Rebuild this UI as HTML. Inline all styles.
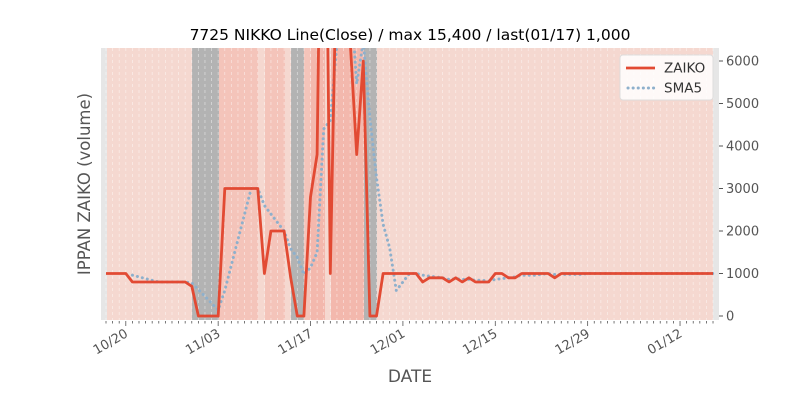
<!DOCTYPE html>
<html><head><meta charset="utf-8"><style>
body{margin:0;background:#fff}
svg{display:block;font-family:"DejaVu Sans","Liberation Sans",sans-serif}
</style></head><body>
<svg id="s" width="800" height="400" viewBox="0 0 800 400"></svg>
<script>
const s=document.getElementById('s');
const X0=106,DX=6.598,T=48,B=320,L=101,R=719;
const y=v=>316-v*0.0425, x=i=>X0+i*DX;
let d=[1000,1000,1000,1000,800,800,800,800,800,800,800,800,800,700,0,0,0,0,3000,3000,3000,3000,3000,3000,1000,2000,2000,2000,900,0,0,2800,3800,15400,1000,9000,7000,6500,3800,6000,0,0,1000,1000,1000,1000,1000,1000,800,900,900,900,800,900,800,900,800,800,800,1000,1000,900,900,1000,1000,1000,1000,1000,900];
while(d.length<93)d.push(1000);
let h='<defs><clipPath id="c"><rect x="'+L+'" y="'+T+'" width="'+(R-L)+'" height="'+(B-T)+'"/></clipPath></defs>';
h+='<rect x="'+L+'" y="'+T+'" width="'+(R-L)+'" height="'+(B-T)+'" fill="#f5d8d0"/>';
h+='<rect x="101" y="48" width="6" height="272" fill="#e6e6e6"/><rect x="713" y="48" width="6" height="272" fill="#e6e6e6"/>';
const bands=[[192,219,'#b3b3b3'],[219,258,'#f4c4ba'],[265,285,'#f4c4ba'],[291,304,'#b3b3b3'],[304,311,'#f4c4ba'],[311,325,'#f3b8ad'],[331,364,'#f3b8ad'],[364,377,'#b3b3b3']];
bands.forEach(b=>h+='<rect x="'+b[0]+'" y="48" width="'+(b[1]-b[0])+'" height="272" fill="'+b[2]+'"/>');
for(let i=0;i<93;i++){h+='<line x1="'+x(i)+'" x2="'+x(i)+'" y1="48" y2="320" stroke="#fff" stroke-opacity="0.5" stroke-dasharray="3,3" stroke-width="0.8"/>';
 h+='<line x1="'+x(i)+'" x2="'+x(i)+'" y1="321" y2="'+((i-3)%14==0?326:323.5)+'" stroke="#555" stroke-width="0.8"/>';}
let p='';for(let i=4;i<93;i++){let m=(d[i]+d[i-1]+d[i-2]+d[i-3]+d[i-4])/5;p+=(i==4?'M':'L')+x(i).toFixed(1)+' '+y(m).toFixed(1);}
h+='<path d="'+p+'" fill="none" stroke="#8eb0cc" stroke-width="3" stroke-dasharray="0.1,5" stroke-linecap="round" clip-path="url(#c)"/>';
p='';d.forEach((v,i)=>p+=(i?'L':'M')+x(i).toFixed(1)+' '+y(v).toFixed(1));
h+='<path d="'+p+'" fill="none" stroke="#e24a33" stroke-width="2.8" stroke-linejoin="round" clip-path="url(#c)"/>';
for(let v=0;v<=6000;v+=1000){h+='<line x1="719" x2="723" y1="'+y(v)+'" y2="'+y(v)+'" stroke="#555"/><text x="726" y="'+(y(v)+4.5)+'" font-size="13" fill="#555">'+v+'</text>';}
[['10/20',3],['11/03',17],['11/17',31],['12/01',45],['12/15',59],['12/29',73],['01/12',87]].forEach(t=>{h+='<text transform="translate('+(x(t[1])+3)+',336) rotate(-30)" text-anchor="end" font-size="13" fill="#555">'+t[0]+'</text>';});
h+='<text x="410" y="40" text-anchor="middle" font-size="15.5" fill="#000">7725 NIKKO Line(Close) / max 15,400 / last(01/17) 1,000</text>';
h+='<text x="410" y="382" text-anchor="middle" font-size="17" fill="#555">DATE</text>';
h+='<text transform="translate(90,184) rotate(-90)" text-anchor="middle" font-size="16.5" fill="#555">IPPAN ZAIKO (volume)</text>';
h+='<rect x="620" y="55" width="93" height="45" rx="3" fill="#fff" fill-opacity="0.85" stroke="#ddd"/>';
h+='<line x1="626" x2="655" y1="68" y2="68" stroke="#e24a33" stroke-width="2.8"/><text x="664" y="72.5" font-size="13.5" fill="#333">ZAIKO</text>';
h+='<line x1="628" x2="655" y1="88" y2="88" stroke="#8eb0cc" stroke-width="3" stroke-dasharray="0.1,5" stroke-linecap="round"/><text x="664" y="92.5" font-size="13.5" fill="#333">SMA5</text>';
s.innerHTML=h;
</script>
</body></html>
